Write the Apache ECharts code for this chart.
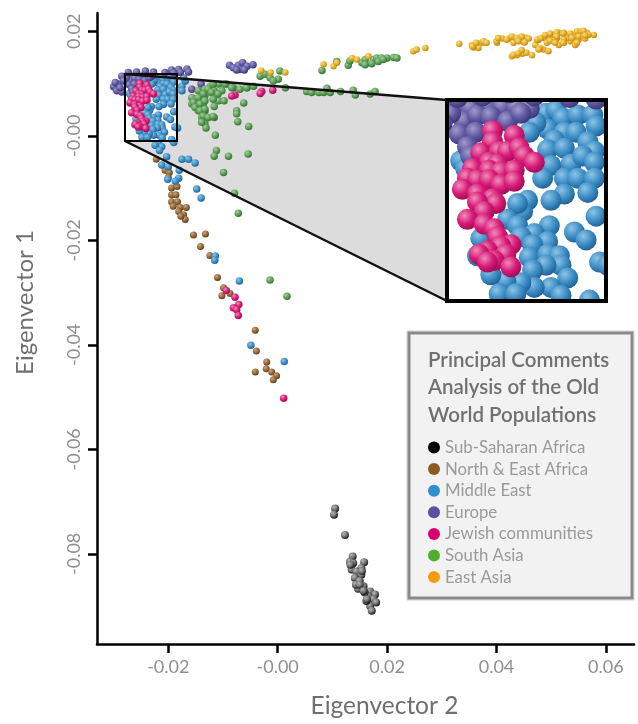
<!DOCTYPE html>
<html>
<head>
<meta charset="utf-8">
<script src="https://cdn.jsdelivr.net/npm/echarts@6/dist/echarts.min.js"></script>
<style>html,body{margin:0;padding:0;background:#fff}#c{width:638px;height:724px}</style>
</head>
<body>
<div id="c"></div>
<script>
const categories = ["Sub-Saharan Africa","North & East Africa","Middle East","Europe","Jewish communities","South Asia","East Asia"];
const xTicks = [-0.02,0,0.02,0.04,0.06];
const xTickLabels = ["-0.02","-0.00","0.02","0.04","0.06"];
const yTicks = [0.02,0,-0.02,-0.04,-0.06,-0.08];
const yTickLabels = ["0.02","-0.00","-0.02","-0.04","-0.06","-0.08"];
const titleLines = ["Principal Comments","Analysis of the Old","World Populations"];
const zoomWindowX = [-0.02792,-0.01841];
const zoomWindowY = [-0.00076,0.01194];

const subSaharan = [[0.0105,-0.0713],[0.0103,-0.0725],[0.0123,-0.0764],[0.0137,-0.0805],[0.0132,-0.0815],[0.0138,-0.0818],[0.0158,-0.0816],[0.0153,-0.0827],[0.0135,-0.083],[0.0144,-0.0834],[0.0153,-0.084],[0.0141,-0.0846],[0.015,-0.0852],[0.0157,-0.0862],[0.0147,-0.0867],[0.0143,-0.0859],[0.0169,-0.0872],[0.0178,-0.0878],[0.0166,-0.0881],[0.0175,-0.0887],[0.0169,-0.09],[0.0172,-0.0909],[0.0162,-0.089],[0.018,-0.0893],[0.0159,-0.0874],[0.0133,-0.0821],[0.0154,-0.0833],[0.015,-0.0859],[0.0157,-0.0871],[0.0163,-0.0887]];
const northEastAfrica = [[-0.0222,-0.0045],[-0.0206,-0.0066],[-0.0198,-0.007],[-0.02,-0.008],[-0.0194,-0.01],[-0.0184,-0.0097],[-0.0194,-0.0113],[-0.0186,-0.0113],[-0.0194,-0.0126],[-0.0183,-0.0126],[-0.0191,-0.0135],[-0.0178,-0.0137],[-0.0167,-0.0137],[-0.0181,-0.0145],[-0.0172,-0.0151],[-0.0169,-0.016],[-0.0177,-0.0154],[-0.0154,-0.019],[-0.0132,-0.0188],[-0.0141,-0.0212],[-0.0124,-0.0229],[-0.011,-0.0271],[-0.0099,-0.0291],[-0.0102,-0.0306],[-0.0087,-0.0302],[-0.0041,-0.0372],[-0.0039,-0.0412],[-0.002,-0.0433],[-0.0021,-0.0446],[-0.0041,-0.0452],[-0.0011,-0.0452],[-0.0002,-0.0459],[-0.0008,-0.0467]];
const middleEast = [[-0.022,0.0111],[-0.0214,0.0113],[-0.021,0.0108],[-0.0201,0.011],[-0.0192,0.011],[-0.0219,0.0101],[-0.0209,0.0099],[-0.0202,0.0099],[-0.019,0.0103],[-0.0215,0.0094],[-0.0219,0.0088],[-0.0209,0.0089],[-0.0195,0.0093],[-0.0191,0.0087],[-0.0217,0.0078],[-0.0205,0.0079],[-0.0198,0.0084],[-0.0191,0.008],[-0.0222,0.007],[-0.0209,0.007],[-0.0201,0.007],[-0.0191,0.007],[-0.0209,0.006],[-0.0195,0.0061],[-0.0217,0.0056],[-0.0226,0.0105],[-0.023,0.0099],[-0.019,0.0046],[-0.0203,0.0036],[-0.0196,0.0031],[-0.0218,0.004],[-0.0231,0.0056],[-0.0234,0.0049],[-0.0237,0.0054],[-0.0243,0.0044],[-0.0237,0.004],[-0.0227,0.0035],[-0.0235,0.0033],[-0.0259,0.0032],[-0.0219,0.003],[-0.0228,0.0028],[-0.023,0.002],[-0.0219,0.0022],[-0.0212,0.0021],[-0.0211,0.0015],[-0.022,0.0015],[-0.0228,0.0012],[-0.0207,0.0007],[-0.0217,0.0001],[-0.0227,0.0001],[-0.0235,0.0004],[-0.0244,0.0005],[-0.0253,0.0009],[-0.0261,0.0021],[-0.0248,-0.0003],[-0.0238,-0.0003],[-0.0211,-0.0004],[-0.0271,0.0081],[-0.0268,0.0076],[-0.0188,0.0017],[-0.0194,-0.0007],[-0.0218,-0.0015],[-0.0212,-0.0021],[-0.0224,-0.0018],[-0.0216,-0.0028],[-0.0203,-0.004],[-0.0212,-0.0056],[-0.02,-0.0059],[-0.0175,-0.0045],[-0.0163,-0.0045],[-0.0151,-0.0052],[-0.018,-0.0066],[-0.0181,-0.0081],[-0.0201,-0.0083],[-0.0148,-0.0102],[-0.014,-0.0119],[-0.0183,0.0015],[-0.019,-0.0013],[-0.0187,-0.0087],[-0.0175,0.0095],[-0.0169,0.0105],[-0.0175,0.0086],[-0.0172,0.0111],[-0.0114,-0.023],[-0.0115,-0.0238],[-0.007,-0.0278],[-0.0049,-0.0401],[0.0012,-0.0432]];
const europe = [[-0.0272,0.0111],[-0.0265,0.0114],[-0.0255,0.0115],[-0.0246,0.0115],[-0.0238,0.0115],[-0.023,0.0114],[-0.0269,0.0106],[-0.0261,0.011],[-0.0253,0.0109],[-0.0243,0.0106],[-0.0235,0.0111],[-0.0272,0.0098],[-0.0262,0.0099],[-0.0267,0.009],[-0.0265,0.0084],[-0.0277,0.0111],[-0.03,0.0094],[-0.0294,0.0086],[-0.0285,0.0084],[-0.0291,0.0099],[-0.0285,0.0114],[-0.0273,0.0121],[-0.0258,0.0122],[-0.0242,0.0124],[-0.0227,0.0122],[-0.0206,0.0121],[-0.0194,0.0126],[-0.0181,0.0127],[-0.0166,0.0128],[-0.0163,0.0122],[-0.0178,0.0121],[-0.019,0.012],[-0.0297,0.0102],[-0.0282,0.0105],[-0.0288,0.0092],[-0.0157,0.0089],[-0.014,0.0099],[-0.0088,0.0135],[-0.0081,0.013],[-0.0072,0.0135],[-0.0064,0.014],[-0.0056,0.0133],[-0.0045,0.0136],[-0.0069,0.0127],[-0.0061,0.0126],[-0.0075,0.0126]];
const jewish = [[-0.0252,0.01],[-0.0239,0.0097],[-0.0252,0.0093],[-0.0259,0.0086],[-0.0248,0.0087],[-0.0243,0.0087],[-0.0236,0.0089],[-0.0233,0.0084],[-0.0227,0.008],[-0.0254,0.008],[-0.0264,0.0076],[-0.0249,0.0079],[-0.0254,0.0075],[-0.0247,0.0074],[-0.0239,0.0075],[-0.0267,0.007],[-0.0261,0.0069],[-0.0254,0.0069],[-0.0247,0.0066],[-0.0239,0.0068],[-0.027,0.0063],[-0.0261,0.006],[-0.0252,0.0057],[-0.025,0.0054],[-0.0261,0.0055],[-0.0257,0.0049],[-0.0267,0.0044],[-0.0257,0.0041],[-0.0251,0.0038],[-0.0249,0.0033],[-0.0241,0.0028],[-0.0247,0.0027],[-0.0255,0.0024],[-0.0244,0.0022],[-0.026,0.0022],[-0.0251,0.0018],[-0.0255,0.0017],[-0.0241,0.0014],[-0.0094,-0.0296],[-0.0078,-0.0309],[-0.0071,-0.0323],[-0.0081,-0.0329],[-0.0075,-0.0333],[-0.0072,-0.0344],[0.0011,-0.0502],[-0.0078,0.0078],[-0.0084,0.0076],[-0.0029,0.0085],[-0.0032,0.0081],[-0.0009,0.0087]];
const southAsia = [[-0.0157,0.0073],[-0.0145,0.0086],[-0.0133,0.0089],[-0.0123,0.0095],[-0.0108,0.0099],[-0.0093,0.0099],[-0.0081,0.0092],[-0.0069,0.0089],[-0.0056,0.0092],[-0.0044,0.0095],[-0.0116,0.0086],[-0.0102,0.0086],[-0.0133,0.0077],[-0.0148,0.007],[-0.0157,0.0061],[-0.0148,0.0058],[-0.0136,0.0061],[-0.0114,0.0073],[-0.0108,0.0067],[-0.0098,0.0067],[-0.0133,0.0048],[-0.0145,0.0048],[-0.0139,0.0035],[-0.0128,0.0035],[-0.0116,0.0035],[-0.0133,0.0023],[-0.0131,0.0015],[-0.0116,0.0056],[-0.0062,0.0063],[-0.0075,0.0048],[-0.0075,0.0042],[-0.0073,0.0027],[-0.0053,0.0018],[-0.0114,0.0001],[-0.0112,-0.0028],[-0.0116,-0.0039],[-0.009,-0.0039],[-0.0054,-0.0035],[-0.0099,-0.007],[-0.0079,-0.011],[-0.0072,-0.0148],[-0.0032,0.0114],[-0.0023,0.0118],[-0.0014,0.0111],[0.0004,0.0124],[0.0001,0.0108],[-0.0008,0.0105],[0.0014,0.0092],[0.0053,0.0085],[0.0062,0.0083],[0.0075,0.0083],[0.0084,0.0083],[0.0096,0.0083],[0.0115,0.0085],[0.0138,0.0087],[0.0142,0.0078],[0.0169,0.008],[0.0178,0.0085],[0.009,0.0091],[0.0081,0.0125],[0.0108,0.0142],[0.0129,0.0135],[0.0132,0.0143],[0.0154,0.014],[0.016,0.0146],[0.0175,0.0146],[0.0181,0.0149],[0.019,0.0149],[0.02,0.0149],[0.0212,0.015],[0.0218,0.0149],[0.0184,0.0142],[0.0193,0.0146],[0.0172,0.0138],[0.016,0.0136],[-0.0014,-0.0276],[0.0017,-0.0307],[-0.0154,0.0064],[-0.0145,0.0073],[-0.0136,0.008],[-0.0127,0.0089],[-0.0118,0.0099],[-0.0096,0.0099],[-0.0084,0.0092],[-0.0057,0.0092],[-0.0151,0.0054],[-0.0142,0.0061],[-0.0133,0.0067],[-0.0142,0.0048],[-0.0133,0.0051],[-0.0136,0.0038],[-0.0127,0.0035],[-0.0118,0.0037],[-0.0139,0.0026],[-0.0121,0.0083],[-0.0109,0.008],[-0.0118,0.007]];
const eastAsia = [[-0.003,0.0125],[-0.0013,0.0121],[0.0014,0.0121],[0.0084,0.0137],[0.0102,0.0133],[0.0108,0.014],[0.0136,0.0149],[0.0145,0.0146],[0.0166,0.0152],[0.0248,0.0162],[0.0254,0.0165],[0.027,0.0168],[0.0332,0.0176],[0.0355,0.0174],[0.0364,0.0171],[0.0373,0.0178],[0.0379,0.0178],[0.0367,0.0168],[0.0358,0.0169],[0.0401,0.0178],[0.041,0.0186],[0.0422,0.0186],[0.0434,0.0184],[0.0444,0.0188],[0.0453,0.0188],[0.045,0.0179],[0.0459,0.0186],[0.0431,0.0178],[0.0471,0.0174],[0.0477,0.0184],[0.0486,0.0187],[0.0495,0.019],[0.0505,0.0193],[0.0514,0.0197],[0.0523,0.0197],[0.0535,0.0193],[0.0547,0.02],[0.0556,0.02],[0.0565,0.0197],[0.0578,0.0193],[0.0562,0.0186],[0.055,0.0184],[0.0535,0.0181],[0.0523,0.0178],[0.0508,0.0181],[0.0492,0.0178],[0.0477,0.0168],[0.0486,0.0165],[0.0495,0.0162],[0.0514,0.0174],[0.0529,0.0187],[0.0544,0.0174],[0.0428,0.0152],[0.0437,0.0154],[0.0447,0.0157],[0.0455,0.0159],[0.0465,0.0154],[0.0541,0.019],[0.0511,0.0187],[0.0498,0.0182],[0.0523,0.0186],[0.0356,0.0171],[0.0376,0.0181],[0.0382,0.0178],[0.0363,0.0178],[0.04,0.0181],[0.0419,0.0184],[0.0428,0.019],[0.0437,0.0187],[0.0446,0.019],[0.044,0.0181],[0.0452,0.0179],[0.0403,0.0187],[0.0474,0.0184],[0.0481,0.0187],[0.0489,0.0193],[0.0498,0.0196],[0.051,0.0198],[0.0522,0.0196],[0.0535,0.0196],[0.0559,0.0201],[0.0568,0.0193],[0.0538,0.0187],[0.055,0.019],[0.0562,0.0192],[0.0507,0.0178],[0.048,0.0168],[0.0477,0.0165],[0.0431,0.0155],[0.044,0.0158],[0.0446,0.0164],[0.0522,0.0178],[0.0547,0.0178],[0.051,0.019]];

const legendColors = ["#000000","#8f5a1f","#2f8fd0","#5a4fa0","#d6006f","#4fae2e","#f59a12"];
const sphereStops = [
  ["#b8b8b8","#707070","#111111"],
  ["#c9a67e","#96693a","#5a3a18"],
  ["#8cc4e6","#3f8fc6","#1d5f94"],
  ["#a09bcc","#615aa2","#3b3475"],
  ["#f08cba","#d81b78","#a00a55"],
  ["#a3cf9c","#5f9f59","#33702f"],
  ["#f7de86","#e8b22c","#b9830f"]
];
const sphere = i => ({type:"radial",x:0.36,y:0.32,r:0.72,colorStops:[
  {offset:0,color:sphereStops[i][0]},{offset:0.55,color:sphereStops[i][1]},{offset:1,color:sphereStops[i][2]}]});

const allData = [subSaharan,northEastAfrica,middleEast,europe,jewish,southAsia,eastAsia];
const mainSizes = [8,7,7.5,7.5,7.5,7.5,6.5];
const mainSeries = allData.map((d,i)=>({
  type:"scatter",name:categories[i],data:d,xAxisIndex:0,yAxisIndex:0,
  symbolSize:mainSizes[i],itemStyle:{color:sphere(i),opacity:1},z:2,silent:true
}));
const insetOrder = [2,3,4];
const insetSeries = insetOrder.map(i=>({
  type:"custom",data:allData[i],xAxisIndex:1,yAxisIndex:1,clip:true,silent:true,z:3,
  encode:{x:0,y:1},
  renderItem:(p,api)=>{
    const c = api.coord([api.value(0),api.value(1)]);
    return {type:"circle",shape:{cx:c[0],cy:c[1],r:10.5},style:{fill:sphere(i)}};
  }
}));

const gray = "#8f8f8f";
const font = "Lato";
const chart = echarts.init(document.getElementById("c"),null,{renderer:"canvas"});
chart.setOption({
  animation:false,
  backgroundColor:"#fff",
  grid:[
    {left:97,top:13,width:537,height:637},
    {left:447,top:100,width:159,height:201}
  ],
  xAxis:[
    {type:"value",min:-0.03303,max:0.06514,name:"Eigenvector 2",nameLocation:"middle",nameGap:50,
     nameTextStyle:{color:"#6f6f6f",fontFamily:font,fontSize:24.5,padding:[0,0,0,38]},
     axisLine:{onZero:false,lineStyle:{color:"#000",width:2.5}},
     axisTick:{customValues:xTicks,length:9,lineStyle:{color:"#000",width:2.5}},
     axisLabel:{customValues:xTicks,margin:14,color:gray,fontFamily:font,fontSize:18,
       formatter:v=>xTickLabels[xTicks.indexOf(v)]},
     splitLine:{show:false}},
    {type:"value",gridIndex:1,min:zoomWindowX[0],max:zoomWindowX[1],show:false,splitLine:{show:false}}
  ],
  yAxis:[
    {type:"value",min:-0.09725,max:0.0235,name:"Eigenvector 1",nameLocation:"middle",nameGap:60,
     nameTextStyle:{color:"#6f6f6f",fontFamily:font,fontSize:24,padding:[0,0,0,52]},
     axisLine:{onZero:false,lineStyle:{color:"#000",width:2.5}},
     axisTick:{customValues:yTicks,length:9,lineStyle:{color:"#000",width:2.5}},
     axisLabel:{customValues:yTicks,rotate:90,margin:14,color:gray,fontFamily:font,fontSize:18,
       formatter:v=>yTickLabels[yTicks.indexOf(v)]},
     splitLine:{show:false}},
    {type:"value",gridIndex:1,min:zoomWindowY[0],max:zoomWindowY[1],show:false,splitLine:{show:false}}
  ],
  legend:{
    data:categories.map((n,i)=>({name:n,icon:"circle",itemStyle:{color:legendColors[i],opacity:1}})),
    orient:"vertical",left:428,top:439,padding:0,itemWidth:12,itemHeight:12,itemGap:4.6,z:8,selectedMode:false,
    textStyle:{color:"#9a9a9a",fontFamily:font,fontSize:16.8}
  },
  graphic:[
    {type:"polygon",z:0,shape:{points:[[125,74],[447,100],[447,301],[125,141]]},style:{fill:"#dcdcdc"}},
    {type:"rect",z:1,shape:{x:125,y:74,width:52,height:67},style:{fill:"#fff"}},
    {type:"rect",z:6,shape:{x:125,y:74,width:52,height:67},style:{fill:"none",stroke:"#000",lineWidth:2}},
    {type:"polyline",z:6,shape:{points:[[125,74],[447,100]]},style:{fill:"none",stroke:"#111",lineWidth:2.5}},
    {type:"polyline",z:6,shape:{points:[[125,141],[447,301]]},style:{fill:"none",stroke:"#111",lineWidth:2.5}},
    {type:"rect",z:6,shape:{x:447,y:100,width:159,height:201},style:{fill:"none",stroke:"#000",lineWidth:4}},
    {type:"rect",z:7,shape:{x:407,y:331,width:227,height:269},style:{fill:"none",stroke:"#d0d0d0",lineWidth:1}},
    {type:"rect",z:7,shape:{x:409,y:333,width:223,height:265},style:{fill:"#f2f2f2",stroke:"#8a8a8a",lineWidth:3}}
  ].concat(titleLines.map((t,i)=>({
    type:"text",z:8,x:428,y:360+i*27.5,
    style:{text:t,fill:"#707070",font:"600 20.5px "+font,textVerticalAlign:"middle"}
  }))),
  series:mainSeries.concat(insetSeries)
});
</script>
</body>
</html>
